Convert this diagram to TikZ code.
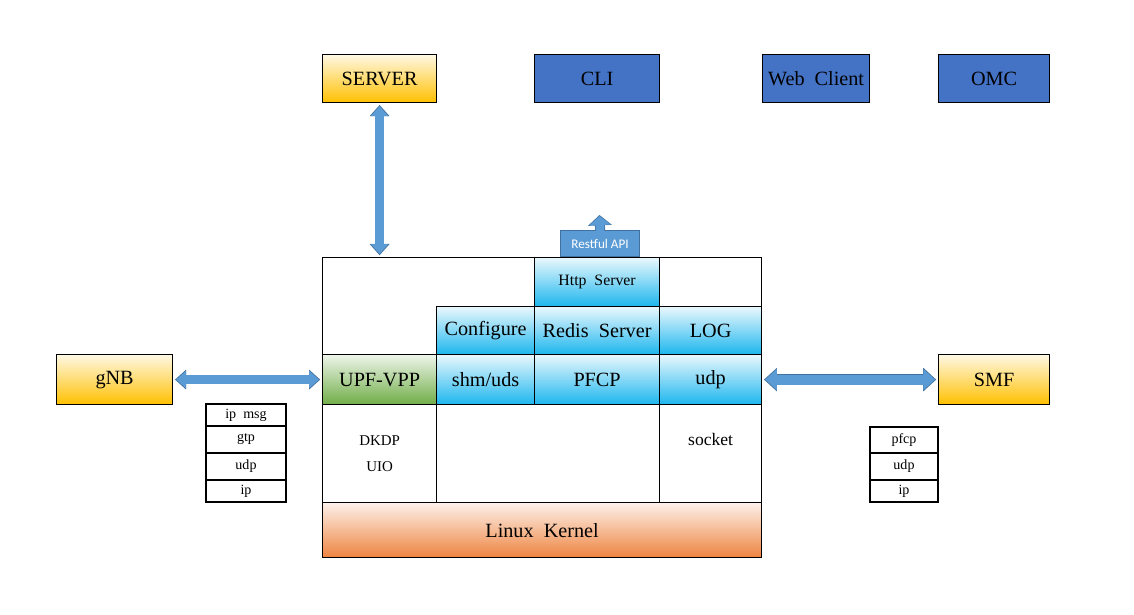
\documentclass[tikz,border=0pt]{standalone}
\usepackage{fontspec}
\setmainfont{Liberation Serif}
\newfontfamily\apifont{Carlito}
\usetikzlibrary{arrows.meta,positioning}

\definecolor{cliblue}{HTML}{4472C4}
\definecolor{srvyellow}{HTML}{FFC000}
\definecolor{srvlight}{HTML}{FFF8E4}
\definecolor{cellblue}{HTML}{1CB6EE}
\definecolor{celllight}{HTML}{EAF8FD}
\definecolor{upfgreen}{HTML}{70AD47}
\definecolor{upflight}{HTML}{EEF5EA}
\definecolor{kernorange}{HTML}{EE8440}
\definecolor{kernlight}{HTML}{FDF1EA}
\definecolor{arrowfill}{HTML}{5B9BD5}
\definecolor{arrowedge}{HTML}{41719C}

\begin{document}
\begin{tikzpicture}[x=0.02cm, y=-0.02cm,
  box/.style={draw, line width=0.7pt, inner sep=0pt, anchor=north west, font=\fontsize{11.5}{13}\selectfont},
  yellowbox/.style={box, top color=srvlight, bottom color=srvyellow},
  bluebox/.style={box, fill=cliblue},
  cellbox/.style={box, top color=celllight, bottom color=cellblue},
  layer/.style={draw, line width=0.6pt, inner sep=0pt, outer sep=0pt, font=\fontsize{8}{9}\selectfont},
  thinarrow/.style={draw=arrowfill, line width=4.7pt, shorten >=1.7pt, shorten <=1.7pt,
    {Triangle[width=9.6pt,length=5.6pt]}-{Triangle[width=9.6pt,length=5.6pt]},
    preaction={draw=arrowedge, line width=5.5pt, shorten >=1pt, shorten <=1pt,
      {Triangle[width=11pt,length=6.4pt]}-{Triangle[width=11pt,length=6.4pt]}}},
  widearrow/.style={draw=arrowfill, line width=5.6pt, shorten >=1.7pt, shorten <=1.7pt,
    {Triangle[width=11.6pt,length=6.6pt]}-{Triangle[width=11.6pt,length=6.6pt]},
    preaction={draw=arrowedge, line width=6.4pt, shorten >=1pt, shorten <=1pt,
      {Triangle[width=13pt,length=7.4pt]}-{Triangle[width=13pt,length=7.4pt]}}},
  apiarrow/.style={draw=arrowfill, line width=4.9pt, shorten <=-0.6pt, shorten >=0.6pt,
    -{Triangle[width=11.9pt,length=5.1pt]},
    preaction={draw=arrowedge, line width=5.7pt, shorten <=0pt, shorten >=0pt,
      -{Triangle[width=13.3pt,length=5.9pt]}}}]
\useasboundingbox (0,0) rectangle (1134,615);

% top row
\node[yellowbox, minimum width=2.28cm, minimum height=0.96cm] (srv) at (322,54) {SERVER};
\node[bluebox, minimum width=2.5cm, minimum height=0.96cm] (cli) at (534,54) {CLI};
\node[bluebox, minimum width=2.14cm, minimum height=0.96cm] (web) at (762,54) {Web~~Client};
\node[bluebox, minimum width=2.22cm, minimum height=0.96cm] (omc) at (938,54) {OMC};

% peers
\node[yellowbox, minimum width=2.32cm, minimum height=1cm] (gnb) at (56,354) {gNB};
\node[yellowbox, minimum width=2.22cm, minimum height=1cm] (smf) at (938,354) {SMF};

% upf block
\node[box, minimum width=8.78cm, minimum height=4.9cm] (blk) at (322,257) {};
\node[cellbox, minimum width=2.5cm, minimum height=0.98cm, font=\fontsize{9}{11}\selectfont] (http) at (534,257) {Http~~Server};
\node[cellbox, minimum width=1.96cm, minimum height=0.96cm] (cfg) at (436,306) {Configure};
\node[cellbox, minimum width=2.5cm, minimum height=0.96cm] (redis) at (534,306) {Redis~~Server};
\node[cellbox, minimum width=2.04cm, minimum height=0.96cm] (log) at (659,306) {LOG};
\node[box, top color=upflight, bottom color=upfgreen, minimum width=2.28cm, minimum height=1cm] (upf) at (322,354) {UPF-VPP};
\node[cellbox, minimum width=1.96cm, minimum height=1cm] (shm) at (436,354) {shm/uds};
\node[cellbox, minimum width=2.5cm, minimum height=1cm] (pfcp) at (534,354) {PFCP};
\node[cellbox, minimum width=2.04cm, minimum height=1cm] (udp) at (659,354) {udp};
\node[box, minimum width=2.28cm, minimum height=1.96cm, align=center, font=\fontsize{8.5}{14.7}\selectfont] (dpdk) at (322,404) {DKDP\\UIO};
\node[box, minimum width=4.46cm, minimum height=1.96cm] (mid) at (436,404) {};
\node[box, minimum width=2.04cm, minimum height=1.96cm, align=center, font=\fontsize{10}{14.7}\selectfont] (sock) at (659,404) {socket\\\rule[-2pt]{0pt}{0pt}};
\node[box, top color=kernlight, bottom color=kernorange, minimum width=8.78cm, minimum height=1.1cm] (kern) at (322,502) {Linux~~Kernel};

% restful api
\node[box, draw=arrowedge, fill=arrowfill, text=white, minimum width=1.58cm, minimum height=0.52cm, font=\apifont\fontsize{7.5}{9}\selectfont] (api) at (560,230) {Restful API};
\coordinate (restout) at (599.5,215);
\draw[apiarrow] (api.north) -- (restout);

% protocol stacks
\node[layer, anchor=north west, minimum width=1.6cm, minimum height=0.44cm] (ipmsg) at (206,404) {ip~~msg};
\node[layer, below=0pt of ipmsg, minimum width=1.6cm, minimum height=0.54cm] (gtp) {gtp};
\node[layer, below=0pt of gtp, minimum width=1.6cm, minimum height=0.54cm] (nudp) {udp};
\node[layer, below=0pt of nudp, minimum width=1.6cm, minimum height=0.44cm] (nip) {ip};
\node[layer, anchor=north west, minimum width=1.36cm, minimum height=0.52cm] (spfcp) at (870,427) {pfcp};
\node[layer, below=0pt of spfcp, minimum width=1.36cm, minimum height=0.54cm] (sudp) {udp};
\node[layer, below=0pt of sudp, minimum width=1.36cm, minimum height=0.44cm] (sip) {ip};

% links
\draw[thinarrow] (srv.south) -- (srv.south |- blk.north);
\draw[thinarrow] (gnb.east) -- (upf.west);
\draw[widearrow] (udp.east) -- (smf.west);
\end{tikzpicture}
\end{document}
